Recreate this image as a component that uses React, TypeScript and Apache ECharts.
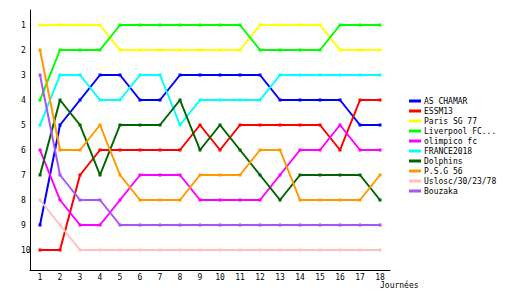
import React, { useEffect, useRef } from "react";
import * as echarts from "echarts";

const rounds = [1, 2, 3, 4, 5, 6, 7, 8, 9, 10, 11, 12, 13, 14, 15, 16, 17, 18];
const rankTicks = [1, 2, 3, 4, 5, 6, 7, 8, 9, 10];

const teams = [
  "AS CHAMAR",
  "ESSM13",
  "Paris SG 77",
  "Liverpool FC...",
  "olimpico fc",
  "FRANCE2018",
  "Dolphins",
  "P.S.G 56",
  "Uslosc/30/23/78",
  "Bouzaka",
];

const colors = [
  "#0000ff",
  "#ff0000",
  "#ffff00",
  "#00ff00",
  "#ff00ff",
  "#00ffff",
  "#006400",
  "#ff9900",
  "#ffc0c0",
  "#a855f7",
];

const asChamar = [9, 5, 4, 3, 3, 4, 4, 3, 3, 3, 3, 3, 4, 4, 4, 4, 5, 5];
const essm13 = [10, 10, 7, 6, 6, 6, 6, 6, 5, 6, 5, 5, 5, 5, 5, 6, 4, 4];
const parisSG77 = [1, 1, 1, 1, 2, 2, 2, 2, 2, 2, 2, 1, 1, 1, 1, 2, 2, 2];
const liverpool = [4, 2, 2, 2, 1, 1, 1, 1, 1, 1, 1, 2, 2, 2, 2, 1, 1, 1];
const olimpico = [6, 8, 9, 9, 8, 7, 7, 7, 8, 8, 8, 8, 7, 6, 6, 5, 6, 6];
const france2018 = [5, 3, 3, 4, 4, 3, 3, 5, 4, 4, 4, 4, 3, 3, 3, 3, 3, 3];
const dolphins = [7, 4, 5, 7, 5, 5, 5, 4, 6, 5, 6, 7, 8, 7, 7, 7, 7, 8];
const psg56 = [2, 6, 6, 5, 7, 8, 8, 8, 7, 7, 7, 6, 6, 8, 8, 8, 8, 7];
const uslosc = [8, 9, 10, 10, 10, 10, 10, 10, 10, 10, 10, 10, 10, 10, 10, 10, 10, 10];
const bouzaka = [3, 7, 8, 8, 9, 9, 9, 9, 9, 9, 9, 9, 9, 9, 9, 9, 9, 9];

const seriesValues = [
  asChamar,
  essm13,
  parisSG77,
  liverpool,
  olimpico,
  france2018,
  dolphins,
  psg56,
  uslosc,
  bouzaka,
];

const xAxisName = "Journées";

const FONT = "DejaVu Sans Mono";

export default function App() {
  const ref = useRef<HTMLDivElement>(null);

  useEffect(() => {
    if (!ref.current) return;
    const chart = echarts.init(ref.current, undefined, { renderer: "svg" });
    const option = {
      animation: false,
      backgroundColor: "#ffffff",
      grid: { left: 30, top: 10, width: 360, height: 260, containLabel: false },
      xAxis: {
        type: "value",
        min: 0.5,
        max: 18.5,
        axisLine: { show: true, onZero: false, lineStyle: { color: "#000", width: 1 } },
        axisTick: { show: false },
        splitLine: { show: false },
        axisLabel: {
          customValues: rounds,
          margin: 3,
          color: "#000",
          fontFamily: FONT,
          fontSize: 8,
        },
      },
      yAxis: {
        type: "value",
        inverse: true,
        min: 0.4,
        max: 10.8,
        axisLine: { show: true, onZero: false, lineStyle: { color: "#000", width: 1 } },
        axisTick: { show: false },
        splitLine: { show: false },
        axisLabel: {
          customValues: rankTicks,
          margin: 9,
          align: "left",
          color: "#000",
          fontFamily: FONT,
          fontSize: 8,
        },
      },
      legend: {
        orient: "vertical",
        left: 409,
        top: 96,
        itemWidth: 12,
        itemHeight: 3,
        itemGap: 0,
        icon: "rect",
        padding: 0,
        textStyle: {
          fontFamily: FONT,
          fontSize: 8,
          color: "#000",
          lineHeight: 10,
          padding: [0, 0, 0, -2],
        },
        data: teams,
      },
      graphic: [
        {
          type: "text",
          left: 380,
          top: 281,
          style: {
            text: xAxisName,
            fontFamily: FONT,
            fontSize: 8,
            fill: "#000",
          },
        },
      ],
      series: teams.map((name, i) => ({
        name,
        type: "line",
        data: rounds.map((r, j) => [r, seriesValues[i][j]]),
        color: colors[i],
        lineStyle: { width: 2, color: colors[i] },
        itemStyle: { color: colors[i] },
        symbol: "rect",
        symbolSize: 3,
        showSymbol: true,
        z: 2,
      })),
    };
    chart.setOption(option as any);
    return () => chart.dispose();
  }, []);

  return (
    <div
      ref={ref}
      style={{ position: "fixed", left: 0, top: 0, width: 530, height: 300 }}
    />
  );
}
